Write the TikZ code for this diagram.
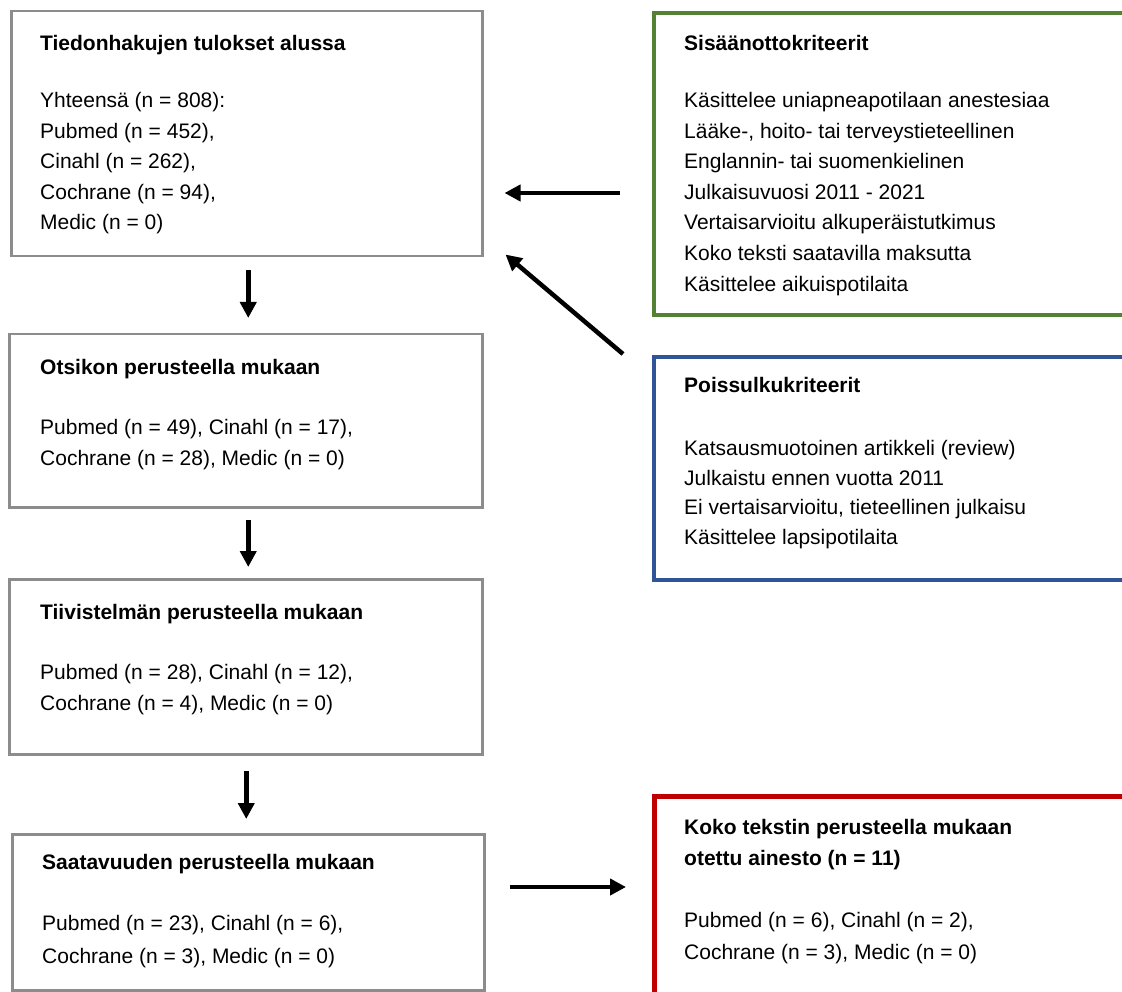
\documentclass[tikz,border=0pt]{standalone}
\usepackage{fontspec}
\setmainfont{Liberation Sans}
\usetikzlibrary{arrows.meta}
\definecolor{boxgray}{HTML}{8C8C8C}
\definecolor{incgreen}{HTML}{548235}
\definecolor{excblue}{HTML}{2F5597}
\definecolor{resred}{HTML}{C00000}
\begin{document}
\begin{tikzpicture}[x=1pt,y=-1pt,
  box/.style={draw=boxgray, line width=2.5pt, rectangle, anchor=north west, inner sep=0pt},
  greenbox/.style={box, draw=incgreen, line width=4pt},
  bluebox/.style={box, draw=excblue, line width=4pt},
  redbox/.style={box, draw=resred, line width=4.5pt},
  ttl/.style={anchor=base west, inner sep=0pt, font=\fontsize{21}{25}\selectfont\bfseries},
  txt/.style={anchor=base west, inner sep=0pt, font=\fontsize{21}{25}\selectfont},
  arr/.style={line width=4.5pt, -{Triangle[length=16pt,width=16pt]}}]
\useasboundingbox (0,0) rectangle (1122,992);
\fill[white] (0,0) rectangle (1122,992);
\clip (0,0) rectangle (1122,992);

% left column boxes
\node[box, minimum width=471pt, minimum height=245pt] (b1) at (10,10) {};
\node[box, minimum width=473pt, minimum height=173pt] (b2) at (8,333) {};
\node[box, minimum width=473pt, minimum height=175pt] (b3) at (8,578) {};
\node[box, minimum width=472pt, minimum height=156pt] (b4) at (11,833) {};
% right column boxes
\node[greenbox, minimum width=471pt, minimum height=302pt] (inc) at (652,11) {};
\node[bluebox, minimum width=471pt, minimum height=223pt] (exc) at (652,355) {};
\node[redbox, minimum width=471pt, minimum height=215pt] (res) at (652,794) {};

% box 1 text
\node[ttl] (b1t) at (40,50.5) {Tiedonhakujen tulokset alussa};
\node[txt] (b1l1) at (40,107.5) {Yhteensä (n = 808):};
\node[txt] (b1l2) at (40,138.5) {Pubmed (n = 452),};
\node[txt] (b1l3) at (40,168.5) {Cinahl (n = 262),};
\node[txt] (b1l4) at (40,199.5) {Cochrane (n = 94),};
\node[txt] (b1l5) at (40,229.5) {Medic (n = 0)};
% box 2 text
\node[ttl] (b2t) at (40,374.5) {Otsikon perusteella mukaan};
\node[txt] (b2l1) at (40,434.5) {Pubmed (n = 49), Cinahl (n = 17),};
\node[txt] (b2l2) at (40,465.5) {Cochrane (n = 28), Medic (n = 0)};
% box 3 text
\node[ttl] (b3t) at (40,619.5) {Tiivistelmän perusteella mukaan};
\node[txt] (b3l1) at (40,679.5) {Pubmed (n = 28), Cinahl (n = 12),};
\node[txt] (b3l2) at (40,710.5) {Cochrane (n = 4), Medic (n = 0)};
% box 4 text
\node[ttl] (b4t) at (42,869.5) {Saatavuuden perusteella mukaan};
\node[txt] (b4l1) at (42,930) {Pubmed (n = 23), Cinahl (n = 6),};
\node[txt] (b4l2) at (42,963) {Cochrane (n = 3), Medic (n = 0)};

% inclusion text
\node[ttl] (inct) at (684,50.5) {Sisäänottokriteerit};
\node[txt] (incl1) at (684,107.5) {Käsittelee uniapneapotilaan anestesiaa};
\node[txt] (incl2) at (684,138.5) {Lääke-, hoito- tai terveystieteellinen};
\node[txt] (incl3) at (684,168.5) {Englannin- tai suomenkielinen};
\node[txt] (incl4) at (684,199.5) {Julkaisuvuosi 2011 - 2021};
\node[txt] (incl5) at (684,229.5) {Vertaisarvioitu alkuperäistutkimus};
\node[txt] (incl6) at (684,260.5) {Koko teksti saatavilla maksutta};
\node[txt] (incl7) at (684,291.5) {Käsittelee aikuispotilaita};
% exclusion text
\node[ttl] (exct) at (684,392.5) {Poissulkukriteerit};
\node[txt] (excl1) at (684,455.5) {Katsausmuotoinen artikkeli (review)};
\node[txt] (excl2) at (684,485.5) {Julkaistu ennen vuotta 2011};
\node[txt] (excl3) at (684,514.5) {Ei vertaisarvioitu, tieteellinen julkaisu};
\node[txt] (excl4) at (684,544.5) {Käsittelee lapsipotilaita};
% result text
\node[ttl] (rest1) at (684,834.5) {Koko tekstin perusteella mukaan};
\node[ttl] (rest2) at (684,865.5) {otettu ainesto (n = 11)};
\node[txt] (resl1) at (684,927.5) {Pubmed (n = 6), Cinahl (n = 2),};
\node[txt] (resl2) at (684,959) {Cochrane (n = 3), Medic (n = 0)};

% connectors
\draw[arr] ([xshift=1.5pt,yshift=-13pt]b1.south) -- ([xshift=2.5pt,yshift=15pt]b2.north);
\draw[arr] ([xshift=2.5pt,yshift=-11pt]b2.south) -- ([xshift=2.5pt,yshift=11pt]b3.north);
\draw[arr] ([xshift=0.5pt,yshift=-15pt]b3.south) -- ([xshift=-2pt,yshift=14pt]b4.north);
\draw[arr] ([xshift=24pt,yshift=-54pt]b4.north east) -- ([xshift=-26pt,yshift=-93pt]res.north west);
\draw[arr] ([xshift=-32pt,yshift=-182pt]inc.north west) -- ([xshift=21pt,yshift=-183pt]b1.north east);
\draw[arr] ([xshift=-29pt,yshift=1pt]exc.north west) -- ([xshift=22pt,yshift=3pt]b1.south east);
\end{tikzpicture}
\end{document}
